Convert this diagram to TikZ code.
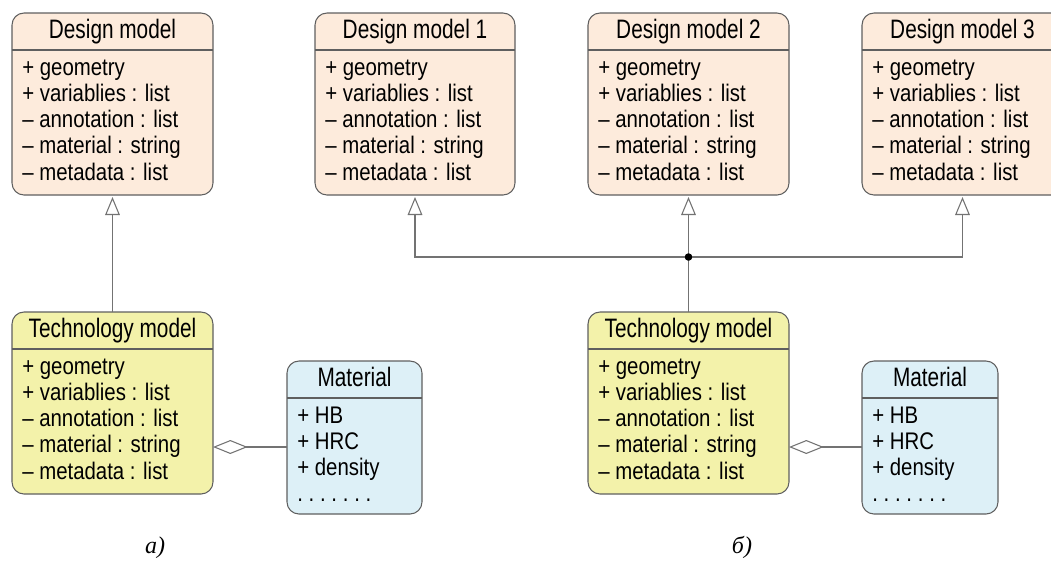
\documentclass[tikz,border=0pt]{standalone}
\usepackage{fontspec}
\setmainfont[FakeStretch=0.85]{Liberation Sans}
\newfontfamily\titlefont[FakeStretch=0.78]{Liberation Sans}
\newfontfamily\capfont{Liberation Serif}
\usetikzlibrary{arrows.meta}
\definecolor{designfill}{RGB}{253,235,220}
\definecolor{techfill}{RGB}{243,242,170}
\definecolor{matfill}{RGB}{221,240,247}
\definecolor{borderc}{RGB}{95,95,95}
\definecolor{linec}{RGB}{115,115,115}
\newcommand\dotrow{.\hspace{4.3pt}.\hspace{4.3pt}.\hspace{4.3pt}.\hspace{4.3pt}.\hspace{4.3pt}.\hspace{4.3pt}.}
\tikzset{
  classbox/.style={draw=borderc, line width=0.8pt, rounded corners=9pt, inner sep=0pt, outer sep=0pt},
  hline/.style={draw=borderc, line width=0.8pt},
  titletext/.style={font=\titlefont\fontsize{20}{22}\selectfont, anchor=base, inner sep=0pt},
  attrtext/.style={font=\fontsize{18}{20}\selectfont, anchor=base west, inner sep=0pt},
  conn/.style={draw=linec, line width=0.8pt},
  gen/.style={conn, -{Triangle[length=13.5pt, width=11pt, fill=white]}, shorten >=1.5pt},
  agg/.style={conn, {Diamond[length=26pt, width=10.5pt, fill=white]}-},
  junction/.style={circle, fill=black, inner sep=0pt, minimum size=5.5pt},
  sublabel/.style={font=\capfont\itshape\fontsize{18}{20}\selectfont, anchor=base, inner sep=0pt}
}
% #1 name, #2 x, #3 y, #4 w, #5 h, #6 fill, #7 title, #8 attrs
\newcommand\umlclass[8]{%
  \node[classbox, fill=#6, anchor=north west, minimum width={(#4)*0.75pt}, minimum height={(#5)*0.75pt}] (#1) at (#2,#3) {};
  \draw[hline] ([yshift=-27.75pt]#1.north west) -- ([yshift=-27.75pt]#1.north east);
  \node[titletext] (#1-t) at ([yshift=-18.75pt]#1.north) {#7};
  \foreach \t [count=\i] in {#8} {
    \node[attrtext] (#1-a\i) at ([xshift=7.5pt, yshift={-(37+25+(\i-1)*26.3)*0.75pt}]#1.north west) {\t};
  }
}
\begin{document}
\begin{tikzpicture}[x=0.75pt, y=-0.75pt]
\useasboundingbox (0,0) rectangle (1051,562);
\clip (0,0) rectangle (1051,562);

% (a)
\umlclass{dmA}{12}{13}{201}{182}{designfill}{Design model}%
  {{+ geometry},{+ variablies : list},{– annotation : list},{– material : string},{– metadata : list}}
\umlclass{techA}{12}{312}{201}{182}{techfill}{Technology model}%
  {{+ geometry},{+ variablies : list},{– annotation : list},{– material : string},{– metadata : list}}
\umlclass{matA}{287}{361}{135}{153}{matfill}{Material}%
  {{+ HB},{+ HRC},{+ density},{\dotrow}}

% (b)
\umlclass{dm1}{315}{13}{200}{182}{designfill}{Design model 1}%
  {{+ geometry},{+ variablies : list},{– annotation : list},{– material : string},{– metadata : list}}
\umlclass{dm2}{588}{13}{201}{182}{designfill}{Design model 2}%
  {{+ geometry},{+ variablies : list},{– annotation : list},{– material : string},{– metadata : list}}
\umlclass{dm3}{862}{13}{201}{182}{designfill}{Design model 3}%
  {{+ geometry},{+ variablies : list},{– annotation : list},{– material : string},{– metadata : list}}
\umlclass{techB}{588}{312}{201}{182}{techfill}{Technology model}%
  {{+ geometry},{+ variablies : list},{– annotation : list},{– material : string},{– metadata : list}}
\umlclass{matB}{862}{361}{136}{153}{matfill}{Material}%
  {{+ HB},{+ HRC},{+ density},{\dotrow}}

% connectors (a)
\draw[gen] (techA.north) -- (dmA.south);
\path ([yshift=-33pt]techA.east) coordinate (aggA);
\draw[agg] (aggA) -- (aggA -| matA.west);

% connectors (b)
\node[junction] (junc) at (688.5,257) {};
\draw[conn] (techB.north) -- (junc.center);
\draw[gen] (junc.center) -- (dm2.south);
\draw[gen] (junc.center) -| (dm1.south);
\draw[gen] (junc.center) -| (dm3.south);
\node[junction] at (junc) {};
\path ([yshift=-33pt]techB.east) coordinate (aggB);
\draw[agg] (aggB) -- (aggB -| matB.west);

% sub-figure labels
\node[sublabel] (labA) at (155,553) {a)};
\node[sublabel] (labB) at (742,553) {б)};
\end{tikzpicture}
\end{document}
